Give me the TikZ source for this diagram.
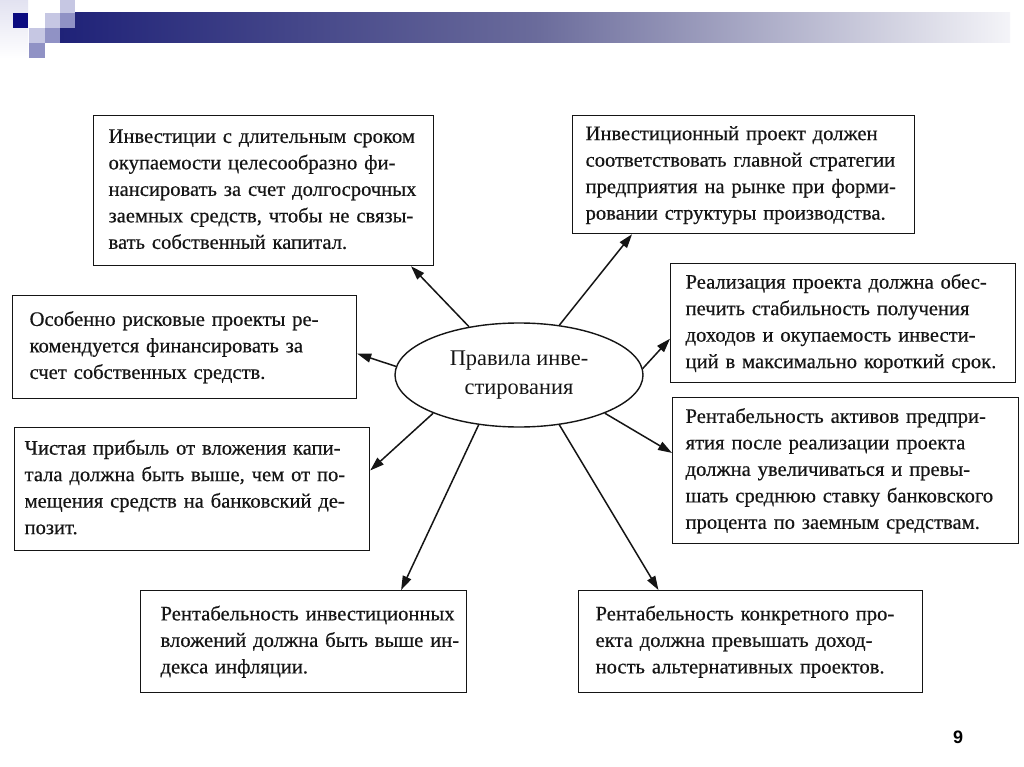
\documentclass[tikz,border=0pt]{standalone}
\usepackage{fontspec}
\setmainfont{Liberation Serif}[FakeBold=0.4]
\newfontfamily\plainserif{Liberation Serif}
\newfontfamily\numfont{Liberation Sans}
\usetikzlibrary{shapes.geometric,arrows.meta,calc}
\definecolor{navy}{HTML}{0B0B80}
\definecolor{barnavy}{HTML}{1F2278}
\definecolor{barmid}{HTML}{6A6B9B}
\definecolor{barend}{HTML}{F4F4F8}
\definecolor{sqlight}{HTML}{C6C7E3}
\definecolor{sqmed}{HTML}{9092C5}
\definecolor{sqpale}{HTML}{E2E2F1}
\definecolor{ink}{HTML}{151515}
\newcommand\boxlines[1]{\begin{tabular}{@{}l@{}}#1\end{tabular}}
\tikzset{
  box/.style={draw=ink, line width=1.2pt, anchor=north west, align=left,
    inner ysep=0pt, text=ink, font=\fontsize{20.6}{26.5}\selectfont},
  arr/.style={draw=ink, line width=1.5pt, -{Triangle[length=14pt,width=9pt]}}
}
\begin{document}
\begin{tikzpicture}[x=1pt,y=-1pt]
\useasboundingbox (0,0) rectangle (1024,767);
\fill[white] (0,0) rectangle (1024,767);
% header decoration
\shade[top color=sqpale, bottom color=white] (0,0) rectangle (28,58);
\shade[left color=barnavy, right color=barend, middle color=barmid] (60,13) rectangle (1010,43);
\fill[navy] (13,13) rectangle (28,28);
\fill[sqlight] (45,13) rectangle (60,28);
\fill[sqlight] (60,0) rectangle (75,13);
\fill[sqmed] (60,13) rectangle (75,28);
\fill[sqlight] (29,28) rectangle (45,43);
\fill[sqmed] (45,28) rectangle (60,43);
\fill[sqmed] (29,43) rectangle (45,58);
% boxes
\node[box, minimum width=340pt, minimum height=150pt, text width=310pt, inner xsep=15pt] (tl) at (93,115)
 {\boxlines{Инвестиции с длительным сроком\\окупаемости целесообразно фи-\\нансировать за счет долгосрочных\\заемных средств, чтобы не связы-\\вать собственный капитал.}};
\node[box, minimum width=342pt, minimum height=118pt, text width=316pt, inner xsep=13pt] (tr) at (572,115)
 {\boxlines{Инвестиционный проект должен\\соответствовать главной стратегии\\предприятия на рынке при форми-\\ровании структуры производства.}};
\node[box, minimum width=344pt, minimum height=103pt, text width=310pt, inner xsep=17pt] (l1) at (12,295)
 {\boxlines{Особенно рисковые проекты ре-\\комендуется финансировать за\\счет собственных средств.}};
\node[box, minimum width=355pt, minimum height=123pt, text width=335pt, inner xsep=10pt] (l2) at (14,427)
 {\boxlines{Чистая прибыль от вложения капи-\\тала должна быть выше, чем от по-\\мещения средств на банковский де-\\позит.}};
\node[box, minimum width=345pt, minimum height=119pt, text width=315pt, inner xsep=15pt] (r1) at (670,263)
 {\boxlines{Реализация проекта должна обес-\\печить стабильность получения\\доходов и окупаемость инвести-\\ций в максимально короткий срок.}};
\node[box, minimum width=346pt, minimum height=146pt, text width=320pt, inner xsep=13pt] (r2) at (672,397)
 {\boxlines{Рентабельность активов предпри-\\ятия после реализации проекта\\должна увеличиваться и превы-\\шать среднюю ставку банковского\\процента по заемным средствам.}};
\node[box, minimum width=326pt, minimum height=102pt, text width=286pt, inner xsep=20pt] (b1) at (140,590)
 {\boxlines{Рентабельность инвестиционных\\вложений должна быть выше ин-\\декса инфляции.}};
\node[box, minimum width=344pt, minimum height=102pt, text width=310pt, inner xsep=17pt] (b2) at (578,590)
 {\boxlines{Рентабельность конкретного про-\\екта должна превышать доход-\\ность альтернативных проектов.}};
% centre
\node[ellipse, draw=ink, line width=1.4pt, minimum width=248pt, minimum height=104pt, inner sep=0pt,
  align=center, text=ink, font=\plainserif\fontsize{22.4}{29}\selectfont] (ell) at (519,375) {Правила инве-\\стирования};
% arrows
\draw[arr] (ell.136.6) -- ($(tl.south west)!0.932!(tl.south east)$);
\draw[arr] (ell.51.7) -- ($(tr.south west)!0.175!(tr.south east)$);
\draw[arr] (ell.176) -- ($(l1.north east)!0.563!(l1.south east)$);
\draw[arr] (ell.3.7) -- ($(r1.north west)!0.63!(r1.south west)$);
\draw[arr] (ell.204.9) -- ($(l2.north east)!0.35!(l2.south east)$);
\draw[arr] (ell.336.2) -- ($(r2.north west)!0.38!(r2.south west)$);
\draw[arr] (ell.231.7) -- ($(b1.north west)!0.798!(b1.north east)$);
\draw[arr] (ell.309) -- ($(b2.north west)!0.233!(b2.north east)$);
% page number
\node[font=\numfont\bfseries\fontsize{18}{18}\selectfont, text=black] (pg) at (958,737) {9};
\end{tikzpicture}
\end{document}
